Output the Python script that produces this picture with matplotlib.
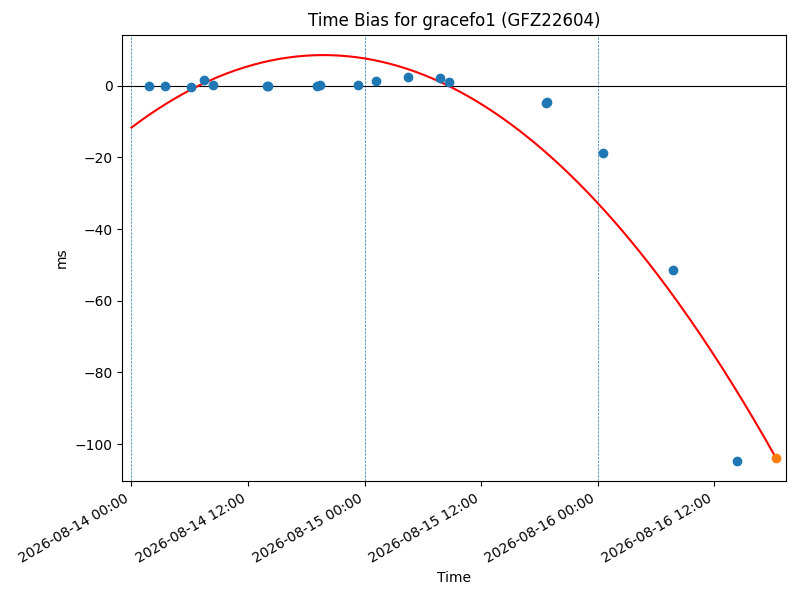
import numpy as np
import pandas as pd
import matplotlib
matplotlib.use("Agg")
import matplotlib.pyplot as plt
import matplotlib.dates as mdates

# ==============================
# DATA
# ==============================
SAT_NAME = "gracefo1"
SAT_CODE = "GFZ22604"

bias_times = [
    "2026-08-14 01:47", "2026-08-14 03:26", "2026-08-14 06:06", "2026-08-14 07:27",
    "2026-08-14 08:24", "2026-08-14 13:55", "2026-08-14 14:02", "2026-08-14 19:06",
    "2026-08-14 19:24", "2026-08-14 23:18", "2026-08-15 01:12", "2026-08-15 04:30",
    "2026-08-15 07:48", "2026-08-15 08:42", "2026-08-15 18:42", "2026-08-15 18:48",
    "2026-08-16 00:36", "2026-08-16 07:46", "2026-08-16 14:21",
]
bias_ms = [0.0, 0.0, -0.5, 1.7, 0.3, 0.0, 0.0, -0.1, 0.2, 0.3,
           1.4, 2.5, 2.2, 1.1, -4.8, -4.6, -18.9, -51.3, -104.7]

last_time = "2026-08-16 18:22"
last_ms = -104.0

# quadratic fit, hours since fit start -> ms
fit_start = "2026-08-14 00:00"
fit_coeffs = [-0.05174, 2.0457, -11.7]

x_limits = ["2026-08-13 23:04", "2026-08-16 19:22"]
day_lines = ["2026-08-14", "2026-08-15", "2026-08-16"]


def main():
    t = pd.to_datetime(bias_times)
    t_last = pd.to_datetime(last_time)
    t0 = pd.to_datetime(fit_start)

    hours = np.linspace(0, (t_last - t0).total_seconds() / 3600, 300)
    fit_t = t0 + pd.to_timedelta(hours, unit="h")
    fit_y = np.polyval(fit_coeffs, hours)

    fig, ax = plt.subplots(figsize=(8, 6), dpi=100)

    for d in day_lines:
        ax.axvline(pd.to_datetime(d), color="C0", linestyle="--", linewidth=0.5)
    ax.axhline(0, color="black", linewidth=0.8)

    ax.scatter(t, bias_ms, color="C0", zorder=3)
    ax.plot(fit_t, fit_y, color="red", zorder=2)
    ax.scatter([t_last], [last_ms], color="C1", zorder=3)

    ax.set_xlim(pd.to_datetime(x_limits[0]), pd.to_datetime(x_limits[1]))
    ax.xaxis.set_major_locator(mdates.HourLocator(byhour=[0, 12]))
    ax.xaxis.set_major_formatter(mdates.DateFormatter("%Y-%m-%d %H:%M"))

    ax.set_title(f"Time Bias for {SAT_NAME} ({SAT_CODE})")
    ax.set_xlabel("Time")
    ax.set_ylabel("ms")
    fig.autofmt_xdate()

    fig.subplots_adjust(left=0.153, right=0.982, top=0.942, bottom=0.198)
    fig.savefig("out.png")


if __name__ == "__main__":
    main()
